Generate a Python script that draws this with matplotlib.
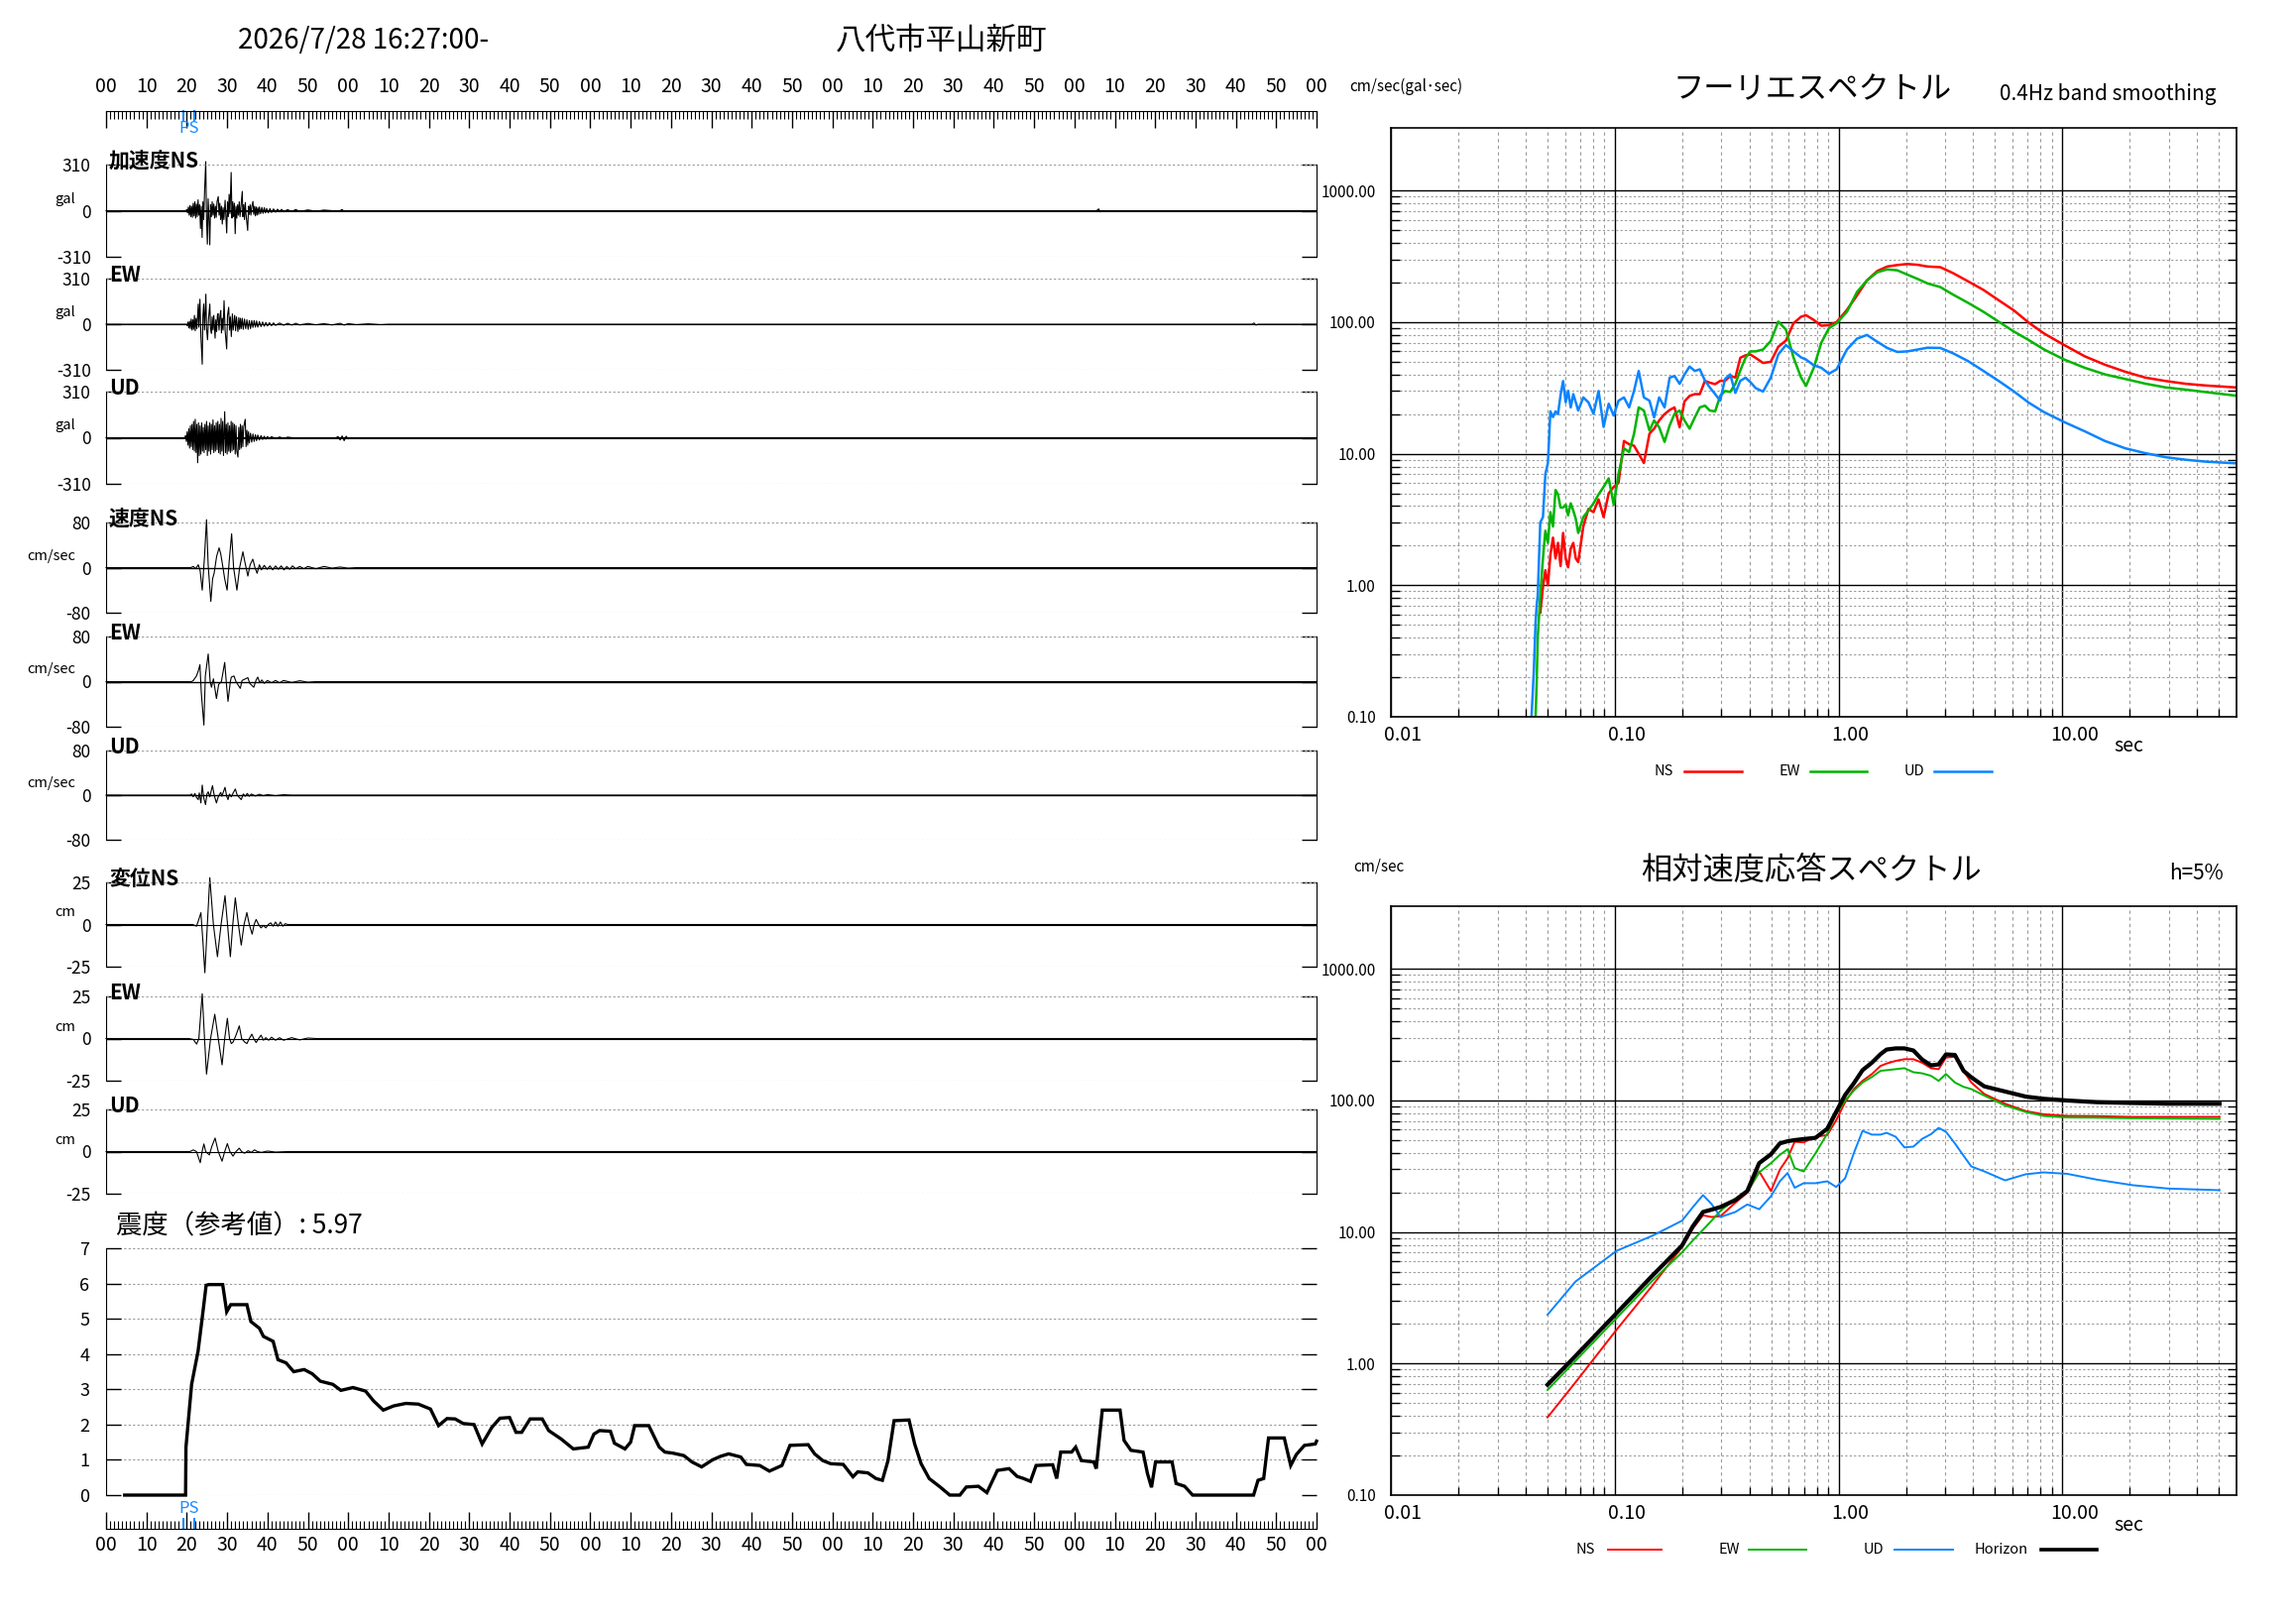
import matplotlib
matplotlib.use("Agg")
import matplotlib.pyplot as plt
import matplotlib.ticker as mticker
import matplotlib.transforms as mtrans
from matplotlib.lines import Line2D

plt.rcParams["font.family"] = ["Noto Sans CJK JP", "DejaVu Sans"]

W, H, DPI = 2316, 1637, 100

# ---------------- data ----------------
RECORD_START = "2026/7/28 16:27:00-"
STATION = "八代市平山新町"
INTENSITY_TEXT = "震度（参考値）: 5.97"
P_TIME, S_TIME = 19.1, 21.9
TIME_TICKS = list(range(0, 301, 10))
TIME_LABELS = [f"{t % 60:02d}" for t in TIME_TICKS]

# waveforms: (seconds after 16:27:00, value)
ACC_NS = [
    (0, 0), (19.8, 0), (20.0, 8), (20.2, -15), (20.4, 25), (20.6, -30), (20.8, 35), (21.0, -40),
    (21.2, 30), (21.4, -45), (21.6, 50), (21.8, -35), (22.0, 60), (22.2, -50), (22.4, 45), (22.6, -40),
    (22.8, 73), (23.0, -30), (23.2, 40), (23.4, -120), (23.6, 30), (23.8, -180), (24.0, 60), (24.2, -60),
    (24.4, 120), (24.7, 330), (24.9, -60), (25.1, -225), (25.3, 80), (25.5, -50), (25.7, -230), (25.9, 40),
    (26.1, -40), (26.3, 60), (26.5, -30), (26.7, 45), (26.9, -50), (27.1, 30), (27.3, -45), (27.5, 60),
    (27.8, 95), (28.0, -30), (28.2, 50), (28.4, -60), (28.6, 30), (28.8, -90), (29.0, 20), (29.2, -60),
    (29.5, 70), (29.7, -40), (29.9, -150), (30.1, 60), (30.3, -40), (30.5, 110), (30.7, -20), (31.0, 257),
    (31.2, -50), (31.4, 60), (31.6, -40), (31.8, 50), (32.0, -155), (32.2, 30), (32.4, -50), (32.6, 40),
    (32.8, -30), (33.0, 60), (33.2, -40), (33.5, 50), (33.75, 130), (33.9, -40), (34.1, 40), (34.3, -60),
    (34.5, 55), (34.7, -30), (35.1, -133), (35.3, 30), (35.5, -25), (35.7, 40), (35.9, -30), (36.1, 25),
    (36.4, 62), (36.6, -25), (36.8, 30), (37.0, -35), (37.2, 25), (37.4, -30), (37.6, 20), (37.8, -25),
    (38.0, 25), (38.3, -20), (38.6, 22), (38.9, -18), (39.2, 20), (39.5, -15), (39.8, 15), (40.2, -15),
    (40.6, 14), (41.0, -12), (41.5, 12), (42.0, -10), (42.5, 10), (43.0, -8), (43.5, 9), (44.0, -8),
    (45.0, 7), (46.0, -7), (47.0, 8), (48.0, -6), (50.0, 5), (52.0, -4), (54.0, 4), (56.0, 0),
    (58.0, 0), (58.5, 8), (59.0, -6), (59.5, 0), (245.5, 0), (246.0, 12), (246.4, -8), (246.8, 0), (300, 0),
]
ACC_EW = [
    (0, 0), (19.9, 0), (20.1, -10), (20.3, 15), (20.5, -25), (20.7, 20), (20.9, -30), (21.1, 35),
    (21.3, -40), (21.5, 30), (21.7, -35), (21.9, 60), (22.1, -45), (22.3, 40), (22.5, -30), (22.85, 137),
    (23.0, -20), (23.26, 170), (23.5, -80), (23.83, -272), (24.0, 60), (24.2, 137), (24.4, -40), (24.73, 204),
    (24.9, -30), (25.14, -106), (25.4, 40), (25.71, 137), (25.9, -30), (26.12, -62), (26.3, 50), (26.5, -40),
    (26.7, 60), (27.02, -95), (27.2, 30), (27.4, -50), (27.6, 60), (27.76, 71), (28.0, -40), (28.2, 50),
    (28.42, 93), (28.6, -60), (28.8, 40), (29.0, -40), (29.24, 160), (29.5, -40), (29.89, -168), (30.1, 60),
    (30.39, 115), (30.6, -40), (30.8, 50), (31.04, -84), (31.3, 70), (31.5, -40), (31.86, 60), (32.1, -45),
    (32.3, 50), (32.68, -50), (32.9, 45), (33.1, -35), (33.3, 40), (33.5, -30), (33.75, 40), (34.0, -35),
    (34.3, 35), (34.6, -30), (34.9, 30), (35.2, -35), (35.5, 25), (35.8, -30), (36.1, 25), (36.4, -22),
    (36.7, 25), (37.0, -20), (37.3, 22), (37.6, -20), (38.0, 18), (38.4, -16), (38.8, 15), (39.2, -14),
    (39.6, 12), (40.0, -12), (40.5, 10), (41.0, -10), (41.5, 9), (42.0, -8), (43.0, 8), (44.0, -7),
    (45.0, 6), (46.0, -6), (47.0, 6), (48.0, -5), (50.0, 5), (52.0, -4), (54.0, 4), (56.0, -5),
    (58.0, 6), (59.0, -6), (60.0, 4), (62.0, -3), (65.0, 3), (68.0, -3), (70.0, 0), (284.0, 0),
    (284.5, 8), (285.0, -6), (285.5, 0), (300, 0),
]
ACC_UD = [
    (0, 0), (19.5, 0), (19.7, 15), (19.9, -25), (20.1, 40), (20.3, -50), (20.5, 60), (20.7, -70),
    (20.9, 80), (21.1, -60), (21.3, 90), (21.5, -80), (21.7, 110), (21.9, -90), (22.1, 124), (22.3, -100),
    (22.5, 90), (22.7, -168), (22.9, 100), (23.1, -120), (23.3, 80), (23.5, -110), (23.7, 100), (23.9, -90),
    (24.1, 70), (24.3, -100), (24.5, 90), (24.7, -80), (24.9, 110), (25.1, -120), (25.3, 80), (25.5, -90),
    (25.7, 100), (25.9, -110), (26.1, 90), (26.3, -80), (26.5, 120), (26.7, -100), (26.9, 80), (27.1, -90),
    (27.3, 100), (27.5, -80), (27.7, 110), (27.9, -100), (28.1, 90), (28.3, -110), (28.5, 130), (28.7, -90),
    (28.9, 110), (29.1, -120), (29.4, 175), (29.6, -100), (29.8, 90), (30.0, -110), (30.2, 100), (30.4, -90),
    (30.6, 80), (30.8, -100), (31.0, 110), (31.2, -90), (31.4, 100), (31.6, -80), (31.8, 90), (32.0, -110),
    (32.2, 80), (32.4, -90), (32.68, -130), (32.9, 70), (33.1, -80), (33.3, 90), (33.5, -70), (33.7, 80),
    (33.9, -60), (34.1, 70), (34.48, 124), (34.7, -60), (34.9, 50), (35.1, -50), (35.3, 40), (35.5, -35),
    (35.8, 30), (36.1, -30), (36.4, 25), (36.7, -25), (37.0, 20), (37.3, -20), (37.6, 18), (38.0, -15),
    (38.4, 14), (38.8, -12), (39.2, 10), (39.6, -10), (40.0, 8), (40.5, -8), (41.0, 7), (42.0, -6),
    (43.0, 5), (44.0, -5), (45.0, 4), (47.0, -3), (50.0, 0), (57.0, 0), (57.5, 8), (58.0, -15),
    (58.5, 12), (59.0, -20), (59.5, 10), (60.0, -8), (61.0, 0), (300, 0),
]
VEL_NS = [
    (0, 0), (21.0, 0), (21.6, 2), (22.2, -2), (22.85, 5), (23.3, -5), (23.83, -40), (24.4, 20),
    (24.89, 85), (25.3, 5), (25.55, -20), (25.96, -60), (26.4, -20), (26.78, -10), (27.4, 20), (28.01, 35),
    (28.4, 25), (28.75, 10), (29.4, -20), (30.0, -40), (30.5, 10), (31.12, 60), (31.6, 0), (32.43, -40),
    (33.1, 0), (33.91, 28), (34.4, 10), (35.14, -15), (35.7, 5), (36.37, 15), (36.9, 0), (37.43, -10),
    (38.0, 5), (38.5, -4), (39.2, 4), (39.9, -3), (40.6, 3), (41.3, -4), (42.0, 3), (42.7, -3),
    (43.4, 3), (44.1, -4), (44.8, 2), (45.5, -3), (46.2, 3), (47.0, -2), (48.0, 2), (49.0, -2),
    (50.0, 2), (52.0, -2), (54.0, 2), (56.0, -1), (58.0, 1), (60.0, -1), (62.0, 0), (300, 0),
]
VEL_EW = [
    (0, 0), (21.2, 0), (21.62, 2), (22.4, 10), (22.9, 20), (23.26, 30), (23.6, -20), (24.24, -77),
    (24.6, 10), (25.31, 49), (25.8, 0), (26.12, -10), (26.6, 5), (27.35, -30), (27.9, -5), (28.58, 0),
    (29.4, 34), (29.9, -10), (30.22, -35), (30.8, 0), (31.04, 8), (31.7, 10), (32.2, 0), (33.26, -12),
    (33.7, 2), (35.14, 7), (35.6, -3), (36.61, -10), (37.2, 3), (37.6, 8), (38.1, -2), (38.6, 3),
    (39.2, -3), (40.0, 2), (41.0, -2), (42.0, 2), (43.0, -2), (44.0, 2), (46.0, -1.5), (48.0, 1.5),
    (50.0, -1), (52.0, 0), (300, 0),
]
VEL_UD = [
    (0, 0), (20.8, 0), (21.2, 2), (21.6, -3), (22.0, 3), (22.4, -4), (22.85, -8), (23.1, 4),
    (23.5, -14), (23.83, 18), (24.2, -5), (24.65, -17), (25.0, 2), (25.31, 6), (25.7, -3), (26.37, 17),
    (26.8, 0), (27.35, -14), (27.8, -3), (28.42, 5), (28.7, -2), (29.48, 14), (29.9, -2), (30.22, -8),
    (30.6, 2), (31.04, -3), (31.5, 4), (32.03, 11), (32.5, 0), (33.5, -8), (34.0, 2), (34.5, -2),
    (35.0, 3), (35.5, -2), (36.0, 2), (37.0, -1.5), (38.0, 1.5), (39.0, -1), (40.0, 1), (42.0, -1),
    (44.0, 0.8), (46.0, 0), (300, 0),
]
DIS_NS = [
    (0, 0), (21.5, 0), (22.4, -1), (22.85, 2), (23.5, 7), (24.0, -10), (24.48, -28.6), (25.1, 0),
    (25.71, 27.8), (26.6, 0), (27.6, -19.1), (28.5, 0), (29.48, 17.1), (30.1, 0), (30.8, -19.1), (31.4, 0),
    (32.03, 15.8), (32.8, 0), (33.5, -12.2), (34.2, 0), (34.89, 7.1), (35.5, 0), (36.2, -5.7), (36.7, 0),
    (37.19, 3), (37.8, 0), (38.4, -2), (39.0, -0.5), (39.6, -2), (40.2, 0), (40.8, 1), (41.4, -1),
    (42.0, 1.5), (42.6, -1), (43.2, 1.5), (43.8, -1), (44.4, 0.5), (45.0, 0), (300, 0),
]
DIS_EW = [
    (0, 0), (20.5, 0), (21.6, -0.5), (22.44, -3.3), (23.0, 0), (23.83, 26.6), (24.4, 0), (24.89, -21.1),
    (25.9, 0), (26.94, 14.4), (27.8, 0), (28.75, -15.6), (29.4, 0), (30.06, 12), (30.6, 0), (31.04, -3),
    (31.5, -2), (32.2, 2), (33.01, 7.5), (33.6, 0), (34.32, -2), (34.9, -3), (35.5, 0), (36.12, 2.6),
    (36.6, 0), (37.19, -2.4), (37.8, 0), (38.42, 2), (39.0, -1), (39.6, 0.5), (40.3, -1), (41.0, 0.8),
    (42.0, -1), (43.0, 0.5), (44.0, -1), (46.0, 0.5), (48.0, -0.8), (50.0, 0.3), (52.0, 0), (300, 0),
]
DIS_UD = [
    (0, 0), (20.8, 0), (21.62, 1), (22.4, 0), (23.34, -6.6), (23.8, 0), (24.24, 4.5), (24.7, 0),
    (25.14, -1), (25.6, -2), (26.2, 3), (27.02, 8), (27.8, 0), (28.75, -5.7), (29.4, 0), (30.06, 4.7),
    (30.7, 0), (31.45, -2.7), (32.2, 0), (33.01, 2), (33.6, 0), (34.32, -1), (35.2, 0.5), (36.0, -0.5),
    (36.78, 1), (37.5, 0), (38.5, -0.5), (40.0, 0.3), (42.0, -0.3), (45.0, 0), (300, 0),
]

# seismic intensity (reference value) vs time
INTENSITY = [
    (4.6, 0), (19.7, 0), (19.8, 1.36), (21.2, 3.14), (22.8, 4.08), (23.8, 5.0), (24.8, 5.95), (25.5, 5.97),
    (28.9, 5.97), (29.9, 5.2), (30.9, 5.4), (34.9, 5.4), (35.9, 4.92), (38.0, 4.73), (39.0, 4.5), (41.4, 4.36),
    (42.6, 3.84), (44.6, 3.75), (46.5, 3.5), (49.1, 3.56), (51.1, 3.44), (53.1, 3.23), (56.2, 3.14), (58.2, 2.97),
    (61.2, 3.05), (64.3, 2.95), (66.3, 2.67), (68.7, 2.41), (71.3, 2.53), (74.3, 2.6), (77.4, 2.58), (80.4, 2.44),
    (82.4, 1.97), (84.5, 2.17), (86.5, 2.16), (88.5, 2.03), (91.2, 2.0), (93.2, 1.45), (95.6, 1.92), (97.6, 2.18),
    (100.0, 2.2), (101.6, 1.78), (103.0, 1.78), (105.1, 2.16), (108.1, 2.16), (109.7, 1.83), (112.8, 1.59),
    (115.8, 1.31), (119.5, 1.36), (120.9, 1.73), (122.3, 1.83), (125.0, 1.81), (126.0, 1.47), (128.6, 1.31),
    (130.0, 1.5), (131.0, 1.97), (134.5, 1.97), (137.1, 1.36), (138.5, 1.22), (140.5, 1.19), (143.2, 1.12),
    (145.2, 0.94), (147.6, 0.8), (150.3, 1.0), (152.3, 1.1), (154.3, 1.17), (157.3, 1.08), (158.7, 0.87),
    (162.0, 0.84), (164.4, 0.68), (167.5, 0.84), (169.5, 1.41), (174.0, 1.43), (175.6, 1.17), (177.6, 0.98),
    (179.6, 0.89), (182.7, 0.87), (185.1, 0.52), (186.3, 0.66), (188.8, 0.63), (190.8, 0.47), (192.4, 0.42),
    (193.8, 0.98), (195.3, 2.11), (199.0, 2.13), (200.4, 1.45), (202.0, 0.89), (204.0, 0.47), (206.7, 0.23),
    (209.1, 0.0), (211.6, 0.0), (213.2, 0.23), (216.2, 0.25), (218.3, 0.07), (220.9, 0.7), (223.8, 0.75),
    (225.8, 0.53), (227.4, 0.47), (229.1, 0.39), (230.5, 0.84), (234.6, 0.86), (235.6, 0.47), (236.6, 1.22),
    (239.3, 1.22), (240.3, 1.36), (241.7, 0.98), (244.8, 0.94), (245.4, 0.75), (246.9, 2.41), (251.3, 2.41),
    (252.3, 1.55), (254.0, 1.27), (257.0, 1.22), (258.1, 0.61), (259.1, 0.22), (260.1, 0.94), (264.2, 0.94),
    (265.2, 0.33), (267.3, 0.25), (269.3, 0.0), (284.4, 0.0), (285.5, 0.42), (286.9, 0.47), (288.1, 1.62),
    (292.0, 1.62), (293.6, 0.84), (295.0, 1.15), (297.0, 1.41), (299.7, 1.45), (300.0, 1.53),
]

NAN = float("nan")
# Fourier spectra, 0.4Hz band smoothing (period sec, cm/sec)
FOURIER_PERIOD = [
    0.0425, 0.0435, 0.0443, 0.0448, 0.0453, 0.0465, 0.0478, 0.0490, 0.0503, 0.0516, 0.0530, 0.0544, 0.0558,
    0.0573, 0.0588, 0.0604, 0.0619, 0.0636, 0.0653, 0.0670, 0.0687,
    0.0724, 0.0763, 0.0804, 0.0847, 0.0892, 0.0940, 0.0990, 0.104, 0.110, 0.116, 0.122, 0.128, 0.135, 0.143,
    0.150, 0.158, 0.167, 0.176, 0.185, 0.195, 0.205, 0.216, 0.228, 0.240, 0.253, 0.266, 0.281, 0.296, 0.311,
    0.328, 0.346, 0.364, 0.384, 0.404, 0.426,
    0.460, 0.498, 0.538, 0.582, 0.629, 0.680, 0.716, 0.775, 0.838, 0.906, 0.980,
    1.09, 1.21, 1.34, 1.49, 1.65, 1.83, 2.03, 2.26, 2.50,
    2.85, 3.25, 3.80, 4.44, 5.19, 6.07, 7.09, 8.29,
    10.2, 12.6, 15.5, 19.1, 23.5, 29.0, 35.7, 43.9, 60.0,
]
FOURIER_NS = [
    NAN, NAN, NAN, NAN, NAN, 0.62, 0.97, 1.3, 1.0, 1.7, 2.3, 1.6, 2.1, 1.4, 2.5, 1.6, 1.37, 1.9, 2.1, 1.6, 1.5,
    2.8, 3.8, 3.6, 4.5, 3.3, 5.0, 5.6, 6.0, 12.5, 11.8, 11.5, 10.0, 8.5, 14.2, 15.5, 17.9, 20.0, 21.5, 22.5,
    15.9, 25.0, 27.5, 28.4, 28.4, 35.8, 34.7, 33.8, 35.8, 35.8, 39.0, 38.0, 53.6, 56.0, 56.8, 53.6,
    49.0, 50.0, 65.0, 72.5, 98.0, 110, 113, 104, 94, 95, 100,
    124, 160, 208, 245, 265, 272, 277, 273, 265,
    262, 236, 204, 176, 147, 123, 99, 82,
    67, 55, 47.5, 42, 37.9, 35.7, 34.0, 33.0, 31.9,
]
FOURIER_EW = [
    NAN, NAN, 0.1, 0.18, 0.4, 0.84, 1.6, 2.6, 2.1, 3.6, 2.8, 5.3, 4.9, 3.9, 3.9, 4.1, 3.4, 4.2, 3.7, 3.2, 2.5,
    3.3, 3.7, 4.2, 4.9, 5.6, 6.5, 4.1, 7.0, 11.0, 10.3, 14.2, 22.5, 21.3, 15.0, 17.9, 15.9, 12.3, 16.4, 20.1,
    21.3, 17.9, 15.5, 18.9, 22.5, 23.2, 21.3, 21.0, 27.5, 30.0, 29.5, 34.0, 43.0, 53.6, 60.0, 60.0,
    62, 72, 101, 88, 54, 38, 32.8, 45, 70, 90, 98,
    120, 170, 208, 240, 252, 248, 230, 213, 197,
    185, 162, 140, 120, 101, 85, 73, 62,
    52, 45, 40.1, 37, 34.1, 31.9, 30.7, 29.4, 27.6,
]
FOURIER_UD = [
    0.1, 0.22, 0.52, 0.7, 0.84, 3.0, 3.3, 7.0, 8.5, 21, 19, 21, 20, 28, 35.7, 24.6, 30.1, 22.5, 28.4, 24.6, 21.3,
    26.8, 24.6, 20.1, 30, 16, 24, 19.5, 25.3, 26.8, 22.5, 30.1, 42.6, 26.8, 25.3, 18.9, 26.8, 22.5, 37.9, 39,
    34, 40, 46, 42.6, 43.8, 36, 31.9, 28.4, 25.3, 37, 40.1, 29, 35.8, 37.9, 35, 31.6,
    29.7, 37.9, 56.8, 67, 60, 54, 52, 47, 45, 40.6, 43.8,
    62, 75, 80, 71, 63.7, 59.4, 60, 62, 64,
    63.7, 58, 50.5, 42.6, 35.8, 29.8, 24.4, 20.7,
    17.4, 14.8, 12.5, 11.0, 10.1, 9.4, 9.0, 8.7, 8.45,
]

# relative velocity response spectra, h=5% (period sec, cm/sec)
RESP_PERIOD = [
    0.0501, 0.0668, 0.102, 0.148, 0.200, 0.223, 0.248, 0.271, 0.297, 0.346, 0.391, 0.442, 0.499, 0.547, 0.592,
    0.637, 0.698, 0.789, 0.891, 0.976, 1.07, 1.17, 1.28, 1.41, 1.54, 1.64, 1.80, 1.97, 2.16, 2.36, 2.59, 2.80,
    3.02, 3.31, 3.62, 3.92, 4.48, 5.55, 6.87, 8.25, 10.5, 14.3, 20.6, 29.7, 50.4,
]
RESP_NS = [
    0.39, 0.72, 1.81, 3.95, 7.7, 10.6, 13.4, 13.0, 13.2, 16.7, 19.9, 28.9, 20.5, 29.8, 36.4,
    48.6, 48.0, 53.0, 54.6, 70.8, 97, 122, 141, 159, 183, 191, 200, 206, 206, 194, 176, 173,
    212, 215, 168, 137, 112, 94.4, 83, 78.5, 76.3, 76, 75, 75, 75,
]
RESP_EW = [
    0.63, 1.05, 2.22, 4.3, 7.0, 8.6, 10.4, 12.2, 14.5, 17.9, 20.3, 28.4, 33.4, 38.6, 42.6,
    30.6, 28.9, 39.7, 56, 79, 100, 119, 137, 151, 168, 170, 173, 176, 164, 161, 154, 141,
    159, 137, 127, 122, 109, 91.6, 81.7, 76.3, 74.3, 74, 73.3, 72.9, 72.5,
]
RESP_UD = [
    2.35, 4.2, 7.2, 9.4, 12.2, 15.4, 19.1, 16.3, 13.0, 14.2, 16.2, 14.9, 18.7, 24.3, 28.1,
    21.7, 23.5, 23.5, 24.3, 22.0, 25.6, 39.7, 58.8, 55, 55, 56.8, 53, 44, 44.6, 51, 55.5, 61.9,
    57.8, 47.2, 38, 31.5, 28.9, 24.7, 27.5, 28.4, 27.7, 25.0, 22.7, 21.4, 20.8,
]
RESP_HORIZON = [
    0.69, 1.14, 2.42, 4.7, 7.9, 11.0, 14.2, 14.8, 15.5, 17.5, 20.5, 33.4, 39.0, 47.2, 49.0,
    50.0, 50.9, 52.0, 61.0, 82.0, 110, 135, 170, 194, 225, 244, 249, 249, 240, 205, 185, 188,
    224, 222, 168, 150, 128, 117, 107, 103, 100, 97, 95.7, 94.5, 94.4,
]

# ---------------- style ----------------
RED, GREEN, BLUE = "#FF0000", "#00B400", "#0A84FF"
PS_BLUE = "#1A8CFF"
GRID = "#9A9A9A"
X0, X1 = 107, 1328          # waveform panels (pixels)
SX0, SX1 = 1403, 2256       # spectrum panels (pixels)

fig = plt.figure(figsize=(W / DPI, H / DPI), dpi=DPI, facecolor="white")


def px_axes(x0, y0, x1, y1):
    return fig.add_axes([x0 / W, 1 - y1 / H, (x1 - x0) / W, (y1 - y0) / H])


def fy(y):
    return 1 - y / H


def ftext(x, y, s, **kw):
    return fig.text(x / W, fy(y), s, **kw)


# titles
ftext(367, 41, RECORD_START, ha="center", va="center", fontsize=20)
ftext(950, 41, STATION, ha="center", va="center", fontsize=22)

# waveform panels
PANELS = [
    ("加速度NS", "gal", 310, ACC_NS, 166, 259, 1.5),
    ("EW", "gal", 310, ACC_EW, 281, 373, 0.8),
    ("UD", "gal", 310, ACC_UD, 395, 488, 1.5),
    ("速度NS", "cm/sec", 80, VEL_NS, 527, 618, 1.0),
    ("EW", "cm/sec", 80, VEL_EW, 642, 733, 1.0),
    ("UD", "cm/sec", 80, VEL_UD, 757, 847, 1.0),
    ("変位NS", "cm", 25, DIS_NS, 890, 975, 0.8),
    ("EW", "cm", 25, DIS_EW, 1005, 1090, 0.8),
    ("UD", "cm", 25, DIS_UD, 1119, 1204, 0.8),
]
for name, unit, amp, pts, y0, y1, base_lw in PANELS:
    ax = px_axes(X0, y0, X1, y1)
    t, v = zip(*pts)
    ax.axhline(0, color="black", lw=base_lw)
    ax.plot(t, v, color="black", lw=0.8, clip_on=False)
    ax.set_xlim(0, 300)
    ax.set_ylim(-amp, amp)
    for lim in (-amp, amp):
        ax.axhline(lim, color=GRID, lw=0.8, ls=(0, (2, 2)))
    ax.spines["top"].set_visible(False)
    ax.spines["bottom"].set_visible(False)
    ax.set_xticks([])
    ax.set_yticks([-amp, 0, amp])
    ax.set_yticklabels([f"-{amp}", "0", f"{amp}"])
    ax.tick_params(axis="y", direction="in", length=11, width=1, left=True, right=True,
                   labelsize=12.5, pad=11)
    zero_y = (y0 + y1) / 2
    ftext(76, zero_y - 12, unit, ha="right", va="center", fontsize=10.5)
    ftext(110, y0 + 3, name, ha="left", va="baseline", fontsize=15, fontweight="bold")

# intensity panel
ax_i = px_axes(X0, 1259, X1, 1508)
t, v = zip(*INTENSITY)
ax_i.plot(t, v, color="black", lw=2.4, clip_on=False, solid_joinstyle="miter")
ax_i.set_xlim(0, 300)
ax_i.set_ylim(0, 7)
ax_i.set_yticks(range(8))
ax_i.yaxis.grid(True, color=GRID, lw=0.8, ls=(0, (2, 2)))
ax_i.set_xticks([])
for s in ("right", "top", "bottom"):
    ax_i.spines[s].set_visible(False)
ax_i.tick_params(axis="y", direction="in", length=11, width=1, left=True, right=True,
                 labelsize=13, pad=12)
ftext(117, 1237, INTENSITY_TEXT, ha="left", va="center", fontsize=19)


# time rulers
def ruler(y_line, top):
    if top:
        ax = px_axes(X0, y_line, X1, y_line + 4)
    else:
        ax = px_axes(X0, y_line - 4, X1, y_line)
    ax.set_xlim(0, 300)
    ax.set_ylim(0, 1)
    ax.patch.set_alpha(0)
    for s in ("left", "right", "bottom" if top else "top"):
        ax.spines[s].set_visible(False)
    ax.set_yticks([])
    ax.set_xticks(TIME_TICKS)
    ax.set_xticklabels(TIME_LABELS)
    ax.set_xticks(range(0, 301), minor=True)
    ax.tick_params(axis="x", which="major", direction="in", length=12, width=1, labelsize=14,
                   top=top, bottom=not top, labeltop=top, labelbottom=not top,
                   pad=10 if top else 4)
    ax.tick_params(axis="x", which="minor", direction="in", length=5.5, width=0.8,
                   top=top, bottom=not top)
    return ax


for y_line, top, y_end, y_txt in ((112, True, 121, 130), (1542, False, 1532, 1521)):
    ax_r = ruler(y_line, top)
    tr = mtrans.blended_transform_factory(ax_r.transData, fig.transFigure)
    for tp in (P_TIME, S_TIME):
        ax_r.plot([tp, tp], [fy(y_line), fy(y_end)], transform=tr, color=PS_BLUE, lw=1.5, clip_on=False)
    ax_r.text((P_TIME + S_TIME) / 2, fy(y_txt), "PS", transform=tr, color=PS_BLUE,
              ha="center", va="center", fontsize=12)


# spectrum panels
def spectrum_axes(y0, y1):
    ax = px_axes(SX0, y0, SX1, y1)
    ax.set_xscale("log")
    ax.set_yscale("log")
    ax.set_xlim(0.01, 60)
    ax.set_ylim(0.1, 3000)
    decades_x = (0.01, 0.1, 1, 10)
    ax.set_xticks(list(decades_x))
    ax.set_xticklabels(["0.01", "0.10", "1.00", "10.00"])
    ax.set_xticks([m * d for d in decades_x for m in range(2, 10) if m * d < 60], minor=True)
    ax.set_yticks([0.1, 1, 10, 100, 1000])
    ax.set_yticklabels(["0.10", "1.00", "10.00", "100.00", "1000.00"])
    ax.set_yticks([m * d for d in (0.1, 1, 10, 100) for m in range(2, 10)], minor=True)
    ax.xaxis.set_minor_formatter(mticker.NullFormatter())
    ax.yaxis.set_minor_formatter(mticker.NullFormatter())
    ax.grid(which="major", color="black", lw=1.0, ls="-")
    ax.xaxis.grid(True, which="minor", color=GRID, lw=0.8, ls=(0, (3, 3)))
    ax.yaxis.grid(True, which="minor", color=GRID, lw=0.8, ls=(0, (2, 2)))
    ax.tick_params(which="major", length=0)
    ax.tick_params(axis="x", which="major", labelsize=14, pad=6)
    ax.tick_params(axis="y", which="major", labelsize=11, pad=11)
    ax.tick_params(axis="x", which="minor", direction="in", length=6, width=1, bottom=True, top=False)
    ax.tick_params(axis="y", which="minor", direction="in", length=6.5, width=1, left=True, right=True)
    for s in ax.spines.values():
        s.set_linewidth(1.2)
    offset = mtrans.ScaledTranslation(12 / DPI, 0, fig.dpi_scale_trans)
    for lbl in ax.get_xticklabels():
        lbl.set_transform(lbl.get_transform() + offset)
    return ax


def legend_item(x_txt, x0, x1, y, label, color, lw):
    ftext(x_txt, y, label, ha="right", va="center", fontsize=10.5)
    fig.add_artist(Line2D([x0 / W, x1 / W], [fy(y), fy(y)], transform=fig.transFigure, color=color, lw=lw))


ax_f = spectrum_axes(129, 723)
ax_f.plot(FOURIER_PERIOD, FOURIER_NS, color=RED, lw=1.8)
ax_f.plot(FOURIER_PERIOD, FOURIER_EW, color=GREEN, lw=1.8)
ax_f.plot(FOURIER_PERIOD, FOURIER_UD, color=BLUE, lw=1.8)
ftext(1361, 87, "cm/sec(gal･sec)", ha="left", va="center", fontsize=11)
ftext(1828, 90, "フーリエスペクトル", ha="center", va="center", fontsize=22.5)
ftext(2017, 95, "0.4Hz band smoothing", ha="left", va="center", fontsize=15)
ftext(2147, 752, "sec", ha="center", va="center", fontsize=14)
legend_item(1688, 1699, 1757, 778, "NS", RED, 1.8)
legend_item(1816, 1826, 1883, 778, "EW", GREEN, 1.8)
legend_item(1941, 1951, 2009, 778, "UD", BLUE, 1.8)

ax_v = spectrum_axes(914, 1508)
ax_v.plot(RESP_PERIOD, RESP_NS, color=RED, lw=1.4)
ax_v.plot(RESP_PERIOD, RESP_EW, color=GREEN, lw=1.4)
ax_v.plot(RESP_PERIOD, RESP_UD, color=BLUE, lw=1.4)
ax_v.plot(RESP_PERIOD, RESP_HORIZON, color="black", lw=3.0)
ftext(1365, 874, "cm/sec", ha="left", va="center", fontsize=11)
ftext(1827, 878, "相対速度応答スペクトル", ha="center", va="center", fontsize=22.5)
ftext(2188, 881, "h=5%", ha="left", va="center", fontsize=15)
ftext(2147, 1538, "sec", ha="center", va="center", fontsize=14)
legend_item(1609, 1622, 1676, 1563, "NS", RED, 1.4)
legend_item(1755, 1764, 1822, 1563, "EW", GREEN, 1.4)
legend_item(1900, 1911, 1970, 1563, "UD", BLUE, 1.4)
legend_item(2046, 2059, 2115, 1563, "Horizon", "black", 2.6)

fig.savefig("out.png", dpi=DPI, facecolor="white")
